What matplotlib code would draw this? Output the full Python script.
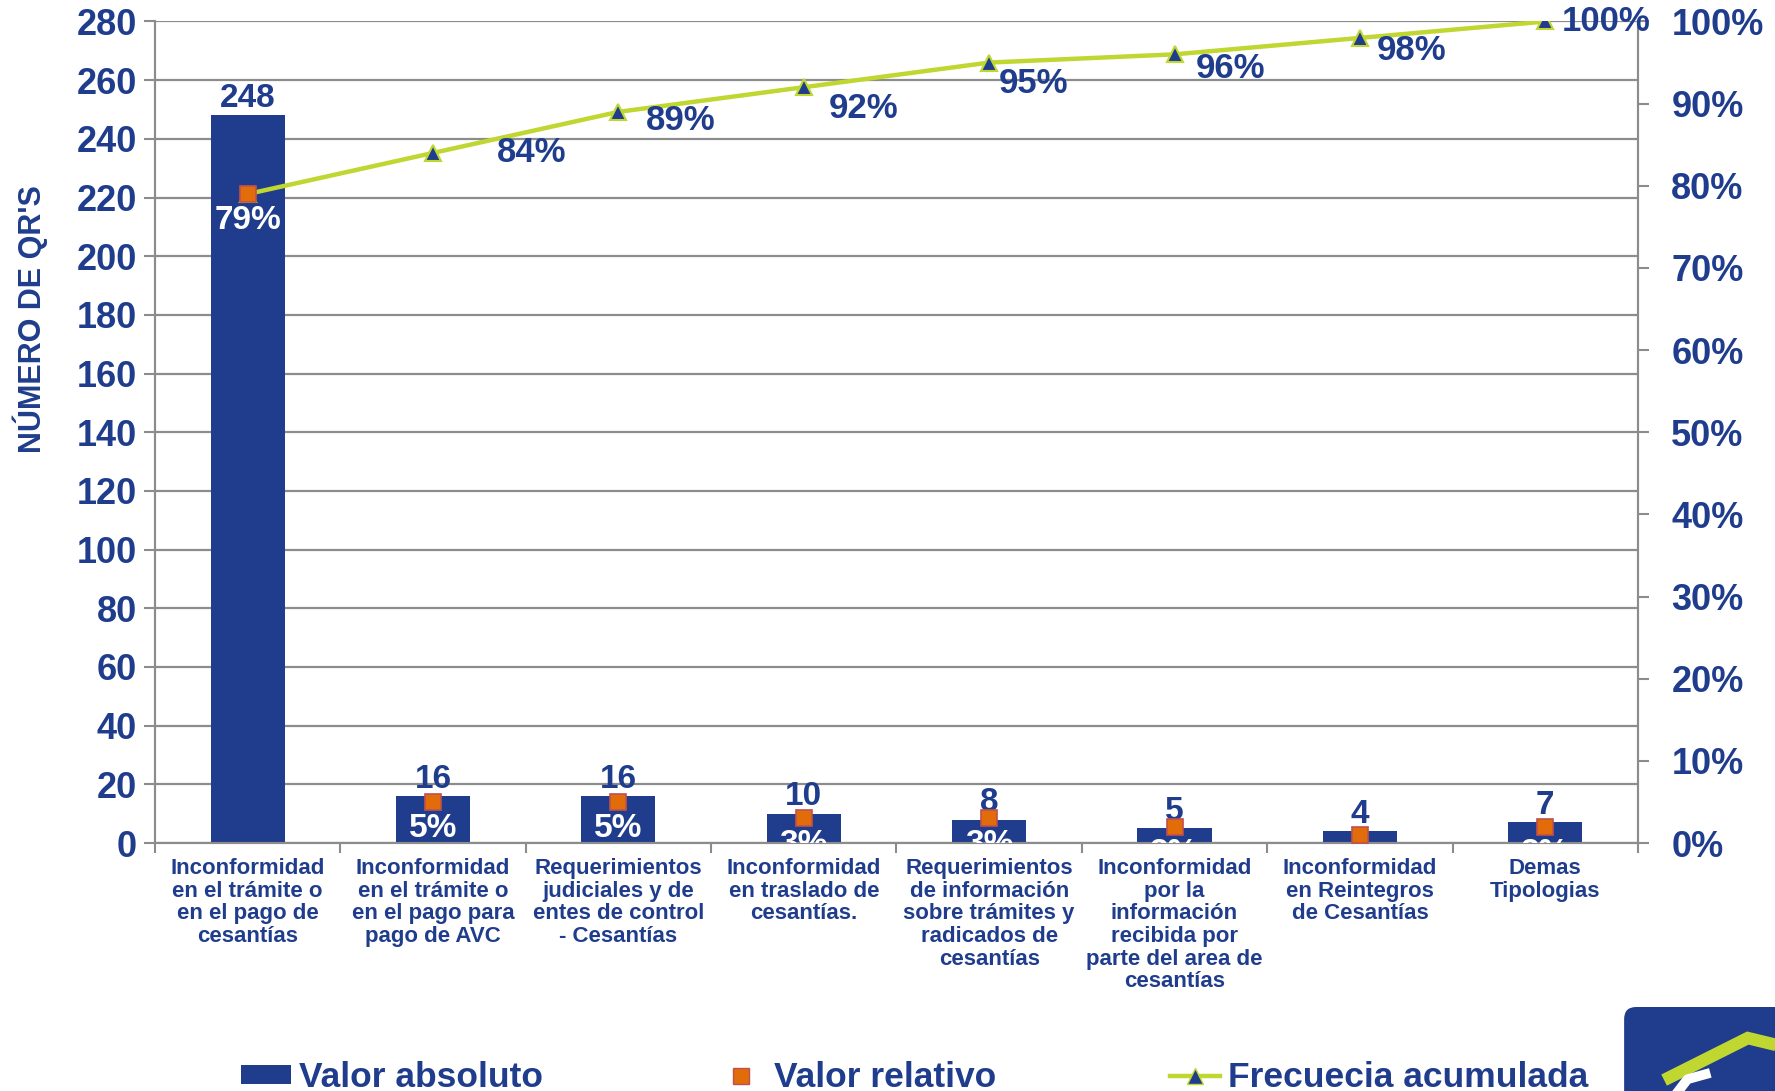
import matplotlib
matplotlib.use('Agg')
from matplotlib import pyplot as plt
from matplotlib.patches import FancyBboxPatch, Patch
from matplotlib.lines import Line2D
from matplotlib.ticker import MultipleLocator, PercentFormatter
from matplotlib.transforms import offset_copy
import numpy as np

# datos del grafico
categorias = [
    "Inconformidad\nen el trámite o\nen el pago de\ncesantías",
    "Inconformidad\nen el trámite o\nen el pago para\npago de AVC",
    "Requerimientos\njudiciales y de\nentes de control\n- Cesantías",
    "Inconformidad\nen traslado de\ncesantías.",
    "Requerimientos\nde información\nsobre trámites y\nradicados de\ncesantías",
    "Inconformidad\npor la\ninformación\nrecibida por\nparte del area de\ncesantías",
    "Inconformidad\nen Reintegros\nde Cesantías",
    "Demas\nTipologias",
]
valor_absoluto = [248, 16, 16, 10, 8, 5, 4, 7]
valor_relativo = [0.79, 0.05, 0.05, 0.03, 0.03, 0.02, 0.01, 0.02]
frecuencia_acumulada = [0.79, 0.84, 0.89, 0.92, 0.95, 0.96, 0.98, 1.00]

# desplazamiento de las etiquetas de la frecuencia acumulada (puntos)
desplazamientos = [(0, 0), (46, 0), (20, -6), (18, -15), (7, -15), (15, -10), (12, -9), (12, 0)]

AZUL = '#1F3D8C'
VERDE = '#BFD730'
NARANJA = '#E36C0A'
GRIS = '#8C8C8C'

plt.rcParams['font.family'] = ['Liberation Sans', 'DejaVu Sans']
plt.rcParams['font.weight'] = 'bold'

fig = plt.figure(figsize=(17.75, 10.91), dpi=100, facecolor='white')
ax = fig.add_axes([0.0873, 0.2273, 0.8355, 0.753])
ax2 = ax.twinx()

x = np.arange(len(categorias))
barras = ax.bar(x, valor_absoluto, width=0.4, color=AZUL, zorder=2)
ax.bar_label(barras, [str(v) for v in valor_absoluto], padding=1,
             color=AZUL, fontsize=24, fontweight='bold')

ax.set_xlim(-0.5, 7.5)
ax.set_ylim(0, 280)
ax.yaxis.set_major_locator(MultipleLocator(20))
ax.grid(axis='y', color=GRIS, lw=1.6, zorder=0)
ax.set_axisbelow(True)

ax.set_xticks(x)
ax.set_xticklabels(categorias, fontsize=16, color=AZUL, linespacing=1.1)
ax.set_xticks(np.arange(-0.5, 8, 1), minor=True)
ax.tick_params(axis='x', which='major', length=0, pad=11)
ax.tick_params(axis='x', which='minor', length=7, color=GRIS, width=1.5)
ax.tick_params(axis='y', length=8, color=GRIS, width=1.5, pad=5,
               labelsize=26, labelcolor=AZUL)
ax.set_ylabel("NÚMERO DE QR'S", fontsize=22, color=AZUL, fontweight='bold')
ax.yaxis.set_label_coords(-0.072, 0.638)

for a in (ax, ax2):
    a.spines['top'].set_visible(False)
    for s in ('left', 'right', 'bottom'):
        a.spines[s].set_color(GRIS)
        a.spines[s].set_linewidth(1.5)

# eje secundario: porcentajes
ax2.set_ylim(0, 1)
ax2.yaxis.set_major_locator(MultipleLocator(0.1))
ax2.yaxis.set_major_formatter(PercentFormatter(1.0, decimals=0))
ax2.tick_params(axis='y', length=8, color=GRIS, width=1.5, pad=16,
                labelsize=26, labelcolor=AZUL)

ax2.plot(x, frecuencia_acumulada, color=VERDE, lw=3.2, marker='^', ms=11,
         mfc=AZUL, mec=VERDE, mew=1.5, zorder=3)
ax2.plot(x, valor_relativo, ls='none', marker='s', ms=12, mfc=NARANJA,
         mec='#C0504D', mew=1.2, zorder=4)

abajo = offset_copy(ax2.transData, fig=fig, x=0, y=-8, units='points')
for xi, v in zip(x, valor_relativo):
    ax2.text(xi, v, "{:.0%}".format(v), transform=abajo, ha='center', va='top',
             color='white', fontsize=24, fontweight='bold', clip_on=True, zorder=5)

for i in range(1, len(x)):
    f = frecuencia_acumulada[i]
    ax2.annotate("{:.0%}".format(f), (x[i], f), xytext=desplazamientos[i],
                 textcoords='offset points', ha='left', va='center', color=AZUL,
                 fontsize=25, fontweight='bold', annotation_clip=False, zorder=5)

# leyenda
manejadores = [
    Patch(facecolor=AZUL, edgecolor='none'),
    Line2D([], [], ls='none', marker='s', ms=12, mfc=NARANJA, mec='#C0504D'),
    Line2D([], [], color=VERDE, lw=3.2, marker='^', ms=11, mfc=AZUL, mec=VERDE),
]
etiquetas = ['Valor absoluto', 'Valor relativo', 'Frecuecia acumulada']
leg = fig.legend(manejadores, etiquetas, loc='center left', bbox_to_anchor=(0.136, 0.012),
                 ncol=3, frameon=False, fontsize=25.5, handlelength=1.4, handleheight=0.45,
                 handletextpad=0.23, columnspacing=4.9, borderpad=0, borderaxespad=0)
for t in leg.get_texts():
    t.set_color(AZUL)
    t.set_fontweight('bold')

# logo en la esquina inferior derecha
lax = fig.add_axes([0.915, 0, 0.085, 0.077])
lax.set_xlim(0, 1)
lax.set_ylim(0, 1)
lax.axis('off')
lax.add_patch(FancyBboxPatch((0.0, -0.5), 1.5, 1.5, boxstyle='round,pad=0,rounding_size=0.08',
                             mutation_aspect=1.8, fc=AZUL, ec='none'))
lax.plot([0.265, 0.82, 1.05], [0.13, 0.63, 0.53], color=VERDE, lw=9,
         solid_joinstyle='miter', solid_capstyle='butt')
lax.plot([0.36, 0.42, 0.54], [0.0, 0.14, 0.2], color='white', lw=7)

fig.savefig('out.png', dpi=100)
